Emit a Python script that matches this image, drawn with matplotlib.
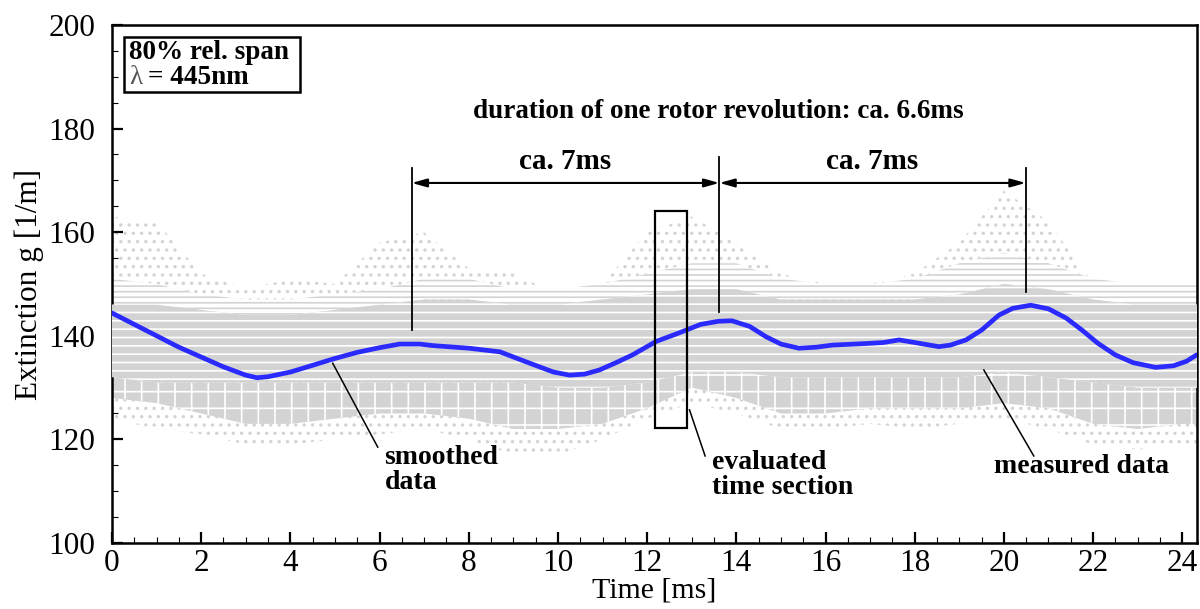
import matplotlib
matplotlib.use("Agg")
import matplotlib.pyplot as plt
from matplotlib.patches import Rectangle

# smoothed curve
t_smooth = [0.0, 0.5, 1.0, 1.5, 2.0, 2.5, 3.0, 3.25, 3.5, 4.0, 4.5, 4.95, 5.5, 6.0, 6.45,
            6.9, 7.2, 8.0, 8.7, 9.4, 9.9, 10.26, 10.6, 10.93, 11.3, 11.67, 12.2, 12.7,
            13.2, 13.6, 13.9, 14.3, 14.67, 15.0, 15.4, 15.8, 16.15, 16.9, 17.3, 17.65,
            18.0, 18.54, 18.8, 19.15, 19.5, 19.89, 20.2, 20.6, 21.0, 21.4, 21.75, 22.1,
            22.5, 22.9, 23.4, 23.8, 24.1, 24.32]
g_smooth = [144.4, 142.2, 140.0, 137.8, 135.9, 134.0, 132.4, 131.9, 132.1, 133.0, 134.3, 135.5,
            136.8, 137.7, 138.4, 138.4, 138.1, 137.6, 136.9, 134.6, 133.0, 132.4, 132.6,
            133.4, 134.8, 136.3, 138.9, 140.5, 142.2, 142.8, 142.9, 141.8, 139.8, 138.4,
            137.6, 137.8, 138.2, 138.5, 138.7, 139.2, 138.7, 137.9, 138.2, 139.2, 141.1,
            144.0, 145.3, 145.9, 145.2, 143.4, 141.1, 138.6, 136.3, 134.8, 133.9, 134.2,
            135.1, 136.3]

# envelope of the measured point cloud (per ms)
t_env = [0, 1, 2, 3, 4, 5, 6, 7, 8, 9, 10, 11, 12, 13, 14, 15, 16, 17, 18, 19, 20,
         21, 22, 23, 24, 24.4]
out_hi = [163, 162, 152, 149, 151, 150, 158, 160, 153, 152, 148, 150, 160, 163, 158,
          152, 150, 150, 152, 158, 168, 162, 150, 149, 149, 149]
upper_hi = [151, 150, 148, 147, 147, 148, 149, 151, 151, 149, 149, 150, 152, 154, 154,
            151, 150, 150, 151, 154, 156, 154, 151, 150, 150, 150]
core_hi = [146, 146, 145, 144, 144, 145, 146, 147, 147, 146, 146, 147, 148, 149, 149,
           147, 147, 147, 147, 148, 150, 149, 147, 146, 146, 146]
core_lo = [132, 131, 131, 131, 131, 131, 131, 131, 131, 131, 130, 130, 131, 133, 133,
           132, 132, 132, 132, 132, 133, 132, 131, 130, 130, 130]
speck_lo = [128, 127, 125, 123, 123, 124, 125, 125, 124, 122, 122, 123, 126, 130, 128,
            125, 125, 126, 126, 126, 127, 126, 123, 122, 123, 123]
out_lo = [124, 122, 121, 119, 119, 120, 121, 122, 120, 117, 117, 120, 124, 127, 125,
          122, 122, 123, 122, 123, 124, 122, 119, 118, 119, 119]

rev_marks = [6.72, 13.62, 20.49]
rev_tops = [172.4, 174.5, 172.4]
rev_bottoms = [141.1, 144.6, 148.5]

plt.rcParams["font.family"] = ["Liberation Serif", "DejaVu Serif"]
plt.rcParams["hatch.linewidth"] = 1.2

GRAY = "#d3d3d3"
fig = plt.figure(figsize=(12, 6.09), dpi=100)
ax = fig.add_axes([0.0933, 0.1084, 0.9042, 0.8506])

# measured data cloud: sparse dots outside, blocky speckle, striped dense core
ax.fill_between(t_env, out_lo, out_hi, facecolor="none", edgecolor=GRAY,
                hatch="..", lw=0, zorder=1)
ax.fill_between(t_env, core_hi, upper_hi, facecolor="white", edgecolor=GRAY,
                hatch="---", lw=0, zorder=2)
ax.fill_between(t_env, speck_lo, core_lo, facecolor=GRAY, edgecolor="white",
                hatch="+", lw=0, zorder=2)
ax.fill_between(t_env, core_lo, core_hi, facecolor=GRAY, edgecolor="white",
                hatch="--", lw=0, zorder=3)

ax.plot(t_smooth, g_smooth, color="#2a2aff", lw=3.4, zorder=5, solid_capstyle="round")

# revolution markers and arrows
for x, top, bot in zip(rev_marks, rev_tops, rev_bottoms):
    ax.plot([x, x], [bot, top], color="black", lw=1.3, zorder=6)
for a, b in zip(rev_marks[:-1], rev_marks[1:]):
    ax.annotate("", xy=(b, 169.5), xytext=(a, 169.5),
                arrowprops=dict(arrowstyle="<|-|>,head_length=0.9,head_width=0.25",
                                color="black", lw=1.5, shrinkA=0, shrinkB=0), zorder=6)
    ax.text((a + b) / 2, 173.6, "ca. 7ms", ha="center", va="center",
            fontsize=21, fontweight="bold")

ax.text(13.6, 183.2, "duration of one rotor revolution: ca. 6.6ms", ha="center",
        va="center", fontsize=19.5, fontweight="bold")

# evaluated time section
ax.add_patch(Rectangle((12.18, 122.2), 0.72, 41.9, fill=False, ec="black", lw=1.6, zorder=7))

# leader lines and labels
ax.plot([4.95, 5.96], [134.7, 118.5], color="black", lw=1.1, zorder=6)
ax.text(6.11, 119.0, "smoothed\ndata", ha="left", va="top", fontsize=20,
        fontweight="bold", linespacing=1.0)
ax.plot([12.95, 13.3], [125.7, 116.8], color="black", lw=1.1, zorder=6)
ax.text(13.46, 118.0, "evaluated\ntime section", ha="left", va="top", fontsize=20,
        fontweight="bold", linespacing=1.0)
ax.plot([19.55, 20.67], [133.4, 116.8], color="black", lw=1.1, zorder=6)
ax.text(19.78, 114.7, "measured data", ha="left", va="center", fontsize=20,
        fontweight="bold")

# info box
ax.add_patch(Rectangle((0.011, 0.871), 0.162, 0.106, transform=ax.transAxes,
                       fill=False, ec="black", lw=1.8, zorder=8))
ax.text(0.016, 0.947, "80% rel. span", transform=ax.transAxes, ha="left",
        va="center", fontsize=19.5, fontweight="bold", zorder=9)
ax.text(0.016, 0.898, "λ", transform=ax.transAxes, ha="left", va="center",
        fontsize=19.5, color="#555555", zorder=9)
ax.text(0.033, 0.898, "= 445nm", transform=ax.transAxes, ha="left", va="center",
        fontsize=19.5, fontweight="bold", zorder=9)

ax.set_xlim(0, 24.33)
ax.set_ylim(100, 200)
ax.set_xticks(range(0, 25, 2))
ax.set_xticks([i * 0.5 for i in range(49)], minor=True)
ax.set_yticks(range(100, 201, 20))
ax.set_yticks(range(100, 201, 5), minor=True)
ax.tick_params(which="both", direction="in", labelsize=22.5)
ax.tick_params(axis="y", pad=12)
ax.tick_params(axis="x", pad=4)
ax.tick_params(which="major", length=8, width=1.6)
ax.tick_params(which="minor", length=4, width=0.8)
for s in ax.spines.values():
    s.set_linewidth(1.8)
ax.set_xlabel("Time [ms]", fontsize=21.5, labelpad=0)
ax.set_ylabel("Extinction g [1/m]", fontsize=22.5, labelpad=3)

fig.savefig("out.png", dpi=100)
